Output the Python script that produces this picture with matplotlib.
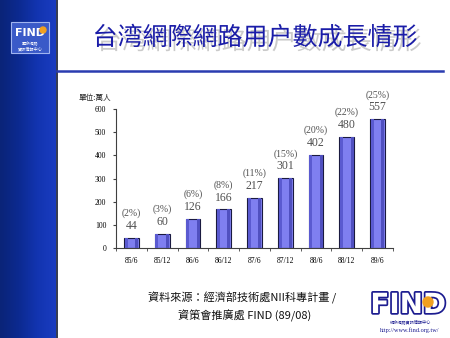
import matplotlib.pyplot as plt
import matplotlib.patheffects as pe
from matplotlib.patches import Rectangle
import numpy as np

plt.rcParams['font.family'] = ['Noto Sans CJK TC', 'DejaVu Sans']

periods = ['85/6', '85/12', '86/6', '86/12', '87/6', '87/12', '88/6', '88/12', '89/6']
users = [44, 60, 126, 166, 217, 301, 402, 480, 557]
share = ['(2%)', '(3%)', '(6%)', '(8%)', '(11%)', '(15%)', '(20%)', '(22%)', '(25%)']
yticks = [0, 100, 200, 300, 400, 500, 600]

W, H = 450, 338
fig = plt.figure(figsize=(W / 100, H / 100), dpi=100)
fig.patch.set_facecolor('white')


def fx(px):
    return px / W


def fy(py):
    return 1 - py / H


# background layer in pixel coords
bg = fig.add_axes([0, 0, 1, 1])
bg.set_xlim(0, W)
bg.set_ylim(H, 0)
bg.axis('off')

# left side strip with a horizontal shade
shade = np.linspace(0, 1, 64)
strip = np.vstack([shade] * 4)
cmap = plt.matplotlib.colors.LinearSegmentedColormap.from_list(
    'strip', ['#0a2478', '#0c2a90', '#1234b0', '#1a3cc0'])
bg.imshow(strip, extent=(0, 56, H, 0), aspect='auto', cmap=cmap, zorder=0)
bg.plot([56.5, 56.5], [0, H], color='#101830', lw=1.2, zorder=1)

# small logo box on the strip
bg.add_patch(Rectangle((11, 22), 38, 31, facecolor='#3a5ac8', edgecolor='#a0b4f0',
                       lw=0.8, zorder=2))
bg.text(30, 33, 'FIND', color='white', fontsize=8, fontweight='bold',
        ha='center', va='center', family='DejaVu Sans', zorder=3)
bg.add_patch(plt.Circle((43, 30), 3, color='#f0a020', zorder=4))
bg.text(30, 43.5, '國際網路', color='white', fontsize=3, ha='center', va='center', zorder=3)
bg.text(30, 49, '資訊情報中心', color='white', fontsize=3, ha='center', va='center', zorder=3)

# title with drop shadow
bg.text(255, 38, '台湾網際網路用户數成長情形', color='#1a1ca8', fontsize=18,
        fontweight='light', ha='center', va='center',
        path_effects=[pe.SimplePatchShadow(offset=(3, -3), shadow_rgbFace='#a8a8a8', alpha=0.6),
                      pe.Normal()])
bg.plot([57, 443], [70.5, 70.5], color='#2a3cb0', lw=1.8)

# chart
ax = fig.add_axes([fx(116), fy(247.7), fx(393) - fx(116), fy(109.3) - fy(247.7)])
x = np.arange(len(periods))
ax.bar(x, users, width=0.48, color='#7f7ff0', edgecolor='#1a1a40', lw=0.8, zorder=2)
# darker sides on each bar
ax.bar(x - 0.17, users, width=0.1, color='#5a5ad0', lw=0, zorder=3)
ax.bar(x + 0.17, users, width=0.1, color='#5050c0', lw=0, zorder=3)
for xi, v, s in zip(x, users, share):
    ax.annotate(str(v), (xi, v), xytext=(0, 8.5), textcoords='offset points',
                ha='center', va='center', fontsize=8.5, color='#505050',
                family='Liberation Serif')
    ax.annotate(s, (xi, v), xytext=(0, 17.5), textcoords='offset points',
                ha='center', va='center', fontsize=7, color='#505050',
                family='Liberation Serif')

ax.set_xlim(-0.45, 8.48)
ax.set_ylim(0, 600)
ax.set_yticks(yticks)
ax.set_yticklabels([str(t) for t in yticks], family='Liberation Serif', fontsize=5.5)
ax.set_xticks(x)
ax.set_xticklabels(periods, family='Liberation Serif', fontsize=5.5)
ax.set_xticks(np.arange(-0.5, 9, 1), minor=True)
ax.tick_params(axis='x', which='major', length=0, pad=7)
ax.tick_params(axis='x', which='minor', length=2, direction='out', color='#404040')
ax.tick_params(axis='y', length=2, direction='out', pad=5, color='#404040')
for side in ['top', 'right']:
    ax.spines[side].set_visible(False)
for side in ['left', 'bottom']:
    ax.spines[side].set_color('#404040')
    ax.spines[side].set_linewidth(0.8)
ax.patch.set_alpha(0)

bg.text(95, 98, '單位:萬人', fontsize=5.5, ha='center', va='center', color='#202020')

# source note
bg.text(148, 298, '資料來源：經濟部技術處NII科專計畫 /', fontsize=8, ha='left',
        va='center', color='#101010')
bg.text(178, 316, '資策會推廣處 FIND (89/08)', fontsize=8, ha='left',
        va='center', color='#101010')

# FIND logo at bottom right
bg.text(408, 305, 'FIND', fontsize=20, fontweight='bold', ha='center', va='center',
        color='white', family='DejaVu Sans',
        path_effects=[pe.withStroke(linewidth=2.5, foreground='#1c1c90')])
bg.add_patch(plt.Circle((428, 302), 5, color='#f0a020', zorder=5))
bg.text(410, 322, '網際網路資訊情報中心', fontsize=3, ha='center', va='center', color='#1c1c90')
bg.text(410, 330, 'http://www.find.org.tw/', fontsize=4.5, ha='center', va='center',
        color='#1c1c90', family='Liberation Serif')

fig.savefig('out.png', dpi=100)
